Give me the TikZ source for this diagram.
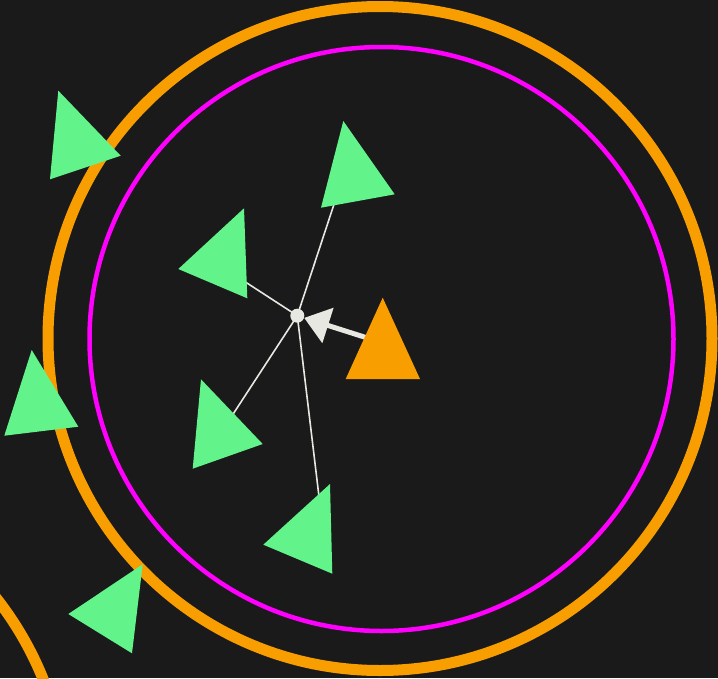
\documentclass[tikz,border=0pt]{standalone}
\usetikzlibrary{arrows.meta}
\definecolor{bgc}{RGB}{26,26,26}
\definecolor{grn}{RGB}{98,243,138}
\definecolor{org}{RGB}{249,158,0}
\definecolor{mag}{RGB}{255,0,255}
\definecolor{lgt}{RGB}{232,232,226}
\tikzset{
  ring/.style={draw=org, line width=11pt},
  inner ring/.style={draw=mag, line width=4.5pt},
  boid/.style={fill=grn},
  leader/.style={fill=org},
  link/.style={draw=lgt, line width=1.6pt},
  steer/.style={draw=lgt, line width=5pt, -{Triangle[width=36pt,length=25pt]}},
  hub/.style={circle, fill=lgt, inner sep=0pt, minimum size=14pt}
}
\begin{document}
\begin{tikzpicture}[x=1pt,y=-1pt]
\useasboundingbox (0,0) rectangle (718,678);
\clip (0,0) rectangle (718,678);
\fill[bgc] (0,0) rectangle (718,678);
% rings
\draw[ring] (380,338.5) circle[radius=332];
\draw[ring] (-265,803) circle[radius=332];
\draw[inner ring] (381.5,339) circle[radius=292];
% coordinates
\coordinate (hubc) at (297.3,315.7);
\coordinate (a2) at (342,180);
\coordinate (a3) at (230,272);
\coordinate (a6) at (224,428);
\coordinate (a7) at (323,530);
\coordinate (lead) at (380,342);
% links
\draw[link] (hubc) -- (a2);
\draw[link] (hubc) -- (a3);
\draw[link] (hubc) -- (a6);
\draw[link] (hubc) -- (a7);
\node[hub] (hub) at (hubc) {};
% steering arrow
\draw[steer] (lead) -- (hub);
% leader triangle
\fill[leader] (382.7,297.7) -- (420,379) -- (345.7,379) -- cycle;
% boids
\fill[boid] (58.3,90.7) -- (120.7,155.7) -- (50,179.3) -- cycle;
\fill[boid] (343.3,121) -- (394.7,194.3) -- (321,207.7) -- cycle;
\fill[boid] (244,208.3) -- (247.3,298.3) -- (178.3,269) -- cycle;
\fill[boid] (31.7,350) -- (78.3,426.7) -- (4.3,435.7) -- cycle;
\fill[boid] (201,379.3) -- (262.7,444) -- (192.7,468.7) -- cycle;
\fill[boid] (330,484) -- (332.3,573.7) -- (263.3,544.7) -- cycle;
\fill[boid] (142.7,564.3) -- (132,653.3) -- (68.3,614) -- cycle;
\end{tikzpicture}
\end{document}
